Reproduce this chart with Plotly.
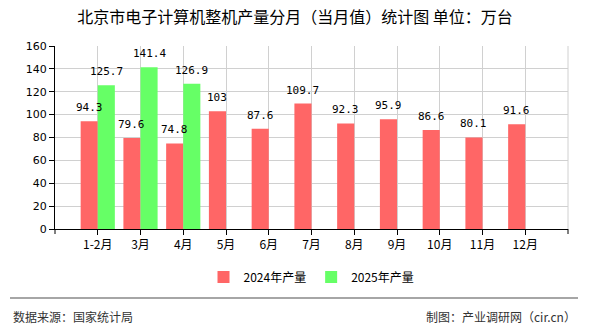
import plotly.graph_objects as go

categories = ["1-2月", "3月", "4月", "5月", "6月", "7月", "8月", "9月", "10月", "11月", "12月"]
values_2024 = [94.3, 79.6, 74.8, 103, 87.6, 109.7, 92.3, 95.9, 86.6, 80.1, 91.6]
values_2025 = [125.7, 141.4, 126.9, None, None, None, None, None, None, None, None]
y_ticks = [0, 20, 40, 60, 80, 100, 120, 140, 160]

W, H = 590, 330
L, R, T, B = 55, 22, 46, 101
pw, ph = W - L - R, H - T - B

def px_x(x):
    return (x - L) / pw

def px_y(y):
    return (H - B - y) / ph

label_font = dict(family="DejaVu Sans Mono", size=11, color="#000")
xs = list(range(len(categories)))

fig = go.Figure()
fig.add_trace(go.Bar(
    x=xs, y=values_2024, name="2024年产量",
    marker=dict(color="#FF6666", line=dict(width=0)),
))
fig.add_trace(go.Bar(
    x=xs, y=values_2025, name="2025年产量",
    marker=dict(color="#66FF66", line=dict(width=0)),
))

# value labels drawn on top of all bars
slot_px = pw / (len(categories) + 1)
half = slot_px * 0.4 / 2
for series, shift in ((values_2024, -half), (values_2025, half)):
    for x, v in zip(xs, series):
        if v is None:
            continue
        fig.add_annotation(x=x, y=v, text=f"{v:g}", showarrow=False,
                           xshift=shift, yshift=5, yanchor="bottom", xanchor="center",
                           font=label_font)

fig.update_layout(
    width=W, height=H,
    margin=dict(l=L, r=R, t=T, b=B),
    paper_bgcolor="white", plot_bgcolor="white",
    barmode="group", bargap=0.2, bargroupgap=0,
    showlegend=True,
    legend=dict(orientation="h", x=0.5, xanchor="center", y=px_y(277), yanchor="middle",
                font=dict(family="Noto Sans CJK SC", size=12, color="#000"),
                itemwidth=30, tracegroupgap=0),
    title=dict(text="北京市电子计算机整机产量分月（当月值）统计图 单位：万台",
               x=0.5, xanchor="center", y=1 - 17 / H, yanchor="middle",
               font=dict(family="Noto Sans CJK SC", size=16, color="#000")),
    font=dict(family="Noto Sans CJK SC", size=12, color="#000"),
)

fig.update_xaxes(
    range=[-1, len(categories)],
    tickmode="array", tickvals=xs, ticktext=categories,
    showgrid=True, gridcolor="#D0D0D0", gridwidth=1,
    showline=True, linecolor="#000", linewidth=1,
    ticks="outside", ticklen=5, tickcolor="#000",
    tickfont=dict(family="Noto Sans CJK SC", size=12, color="#000"),
    zeroline=False, mirror=False,
)
fig.update_yaxes(
    range=[0, 160],
    tickmode="array", tickvals=y_ticks, ticktext=[str(t) for t in y_ticks],
    showgrid=True, gridcolor="#D0D0D0", gridwidth=1,
    showline=True, linecolor="#000", linewidth=1,
    ticks="outside", ticklen=5, tickcolor="#000",
    tickfont=dict(family="DejaVu Sans", size=11, color="#000"),
    zeroline=False,
)

# right edge vertical grid line
fig.add_shape(type="line", xref="paper", yref="paper", x0=1, x1=1, y0=0, y1=1,
              line=dict(color="#D0D0D0", width=1), layer="below")
# ticks at the left/right ends of bottom axis
fig.add_shape(type="line", xref="paper", yref="paper", x0=1, x1=1, y0=0, y1=px_y(234),
              line=dict(color="#000", width=1))
fig.add_shape(type="line", xref="paper", yref="paper", x0=0, x1=0, y0=0, y1=px_y(234),
              line=dict(color="#000", width=1))

# footer separator
fig.add_shape(type="line", xref="paper", yref="paper", x0=px_x(10), x1=px_x(578),
              y0=px_y(298), y1=px_y(298), line=dict(color="#888", width=1.5))

fig.add_annotation(text="数据来源：国家统计局", xref="paper", yref="paper",
                   x=px_x(11), y=px_y(316), xanchor="left", yanchor="middle",
                   showarrow=False, font=dict(family="Noto Sans CJK SC", size=12, color="#333"))
fig.add_annotation(text="制图：产业调研网（cir.cn）", xref="paper", yref="paper",
                   x=px_x(578), y=px_y(316), xanchor="right", yanchor="middle",
                   showarrow=False, font=dict(family="Noto Sans CJK SC", size=12, color="#333"))

fig.write_html("out.html")
